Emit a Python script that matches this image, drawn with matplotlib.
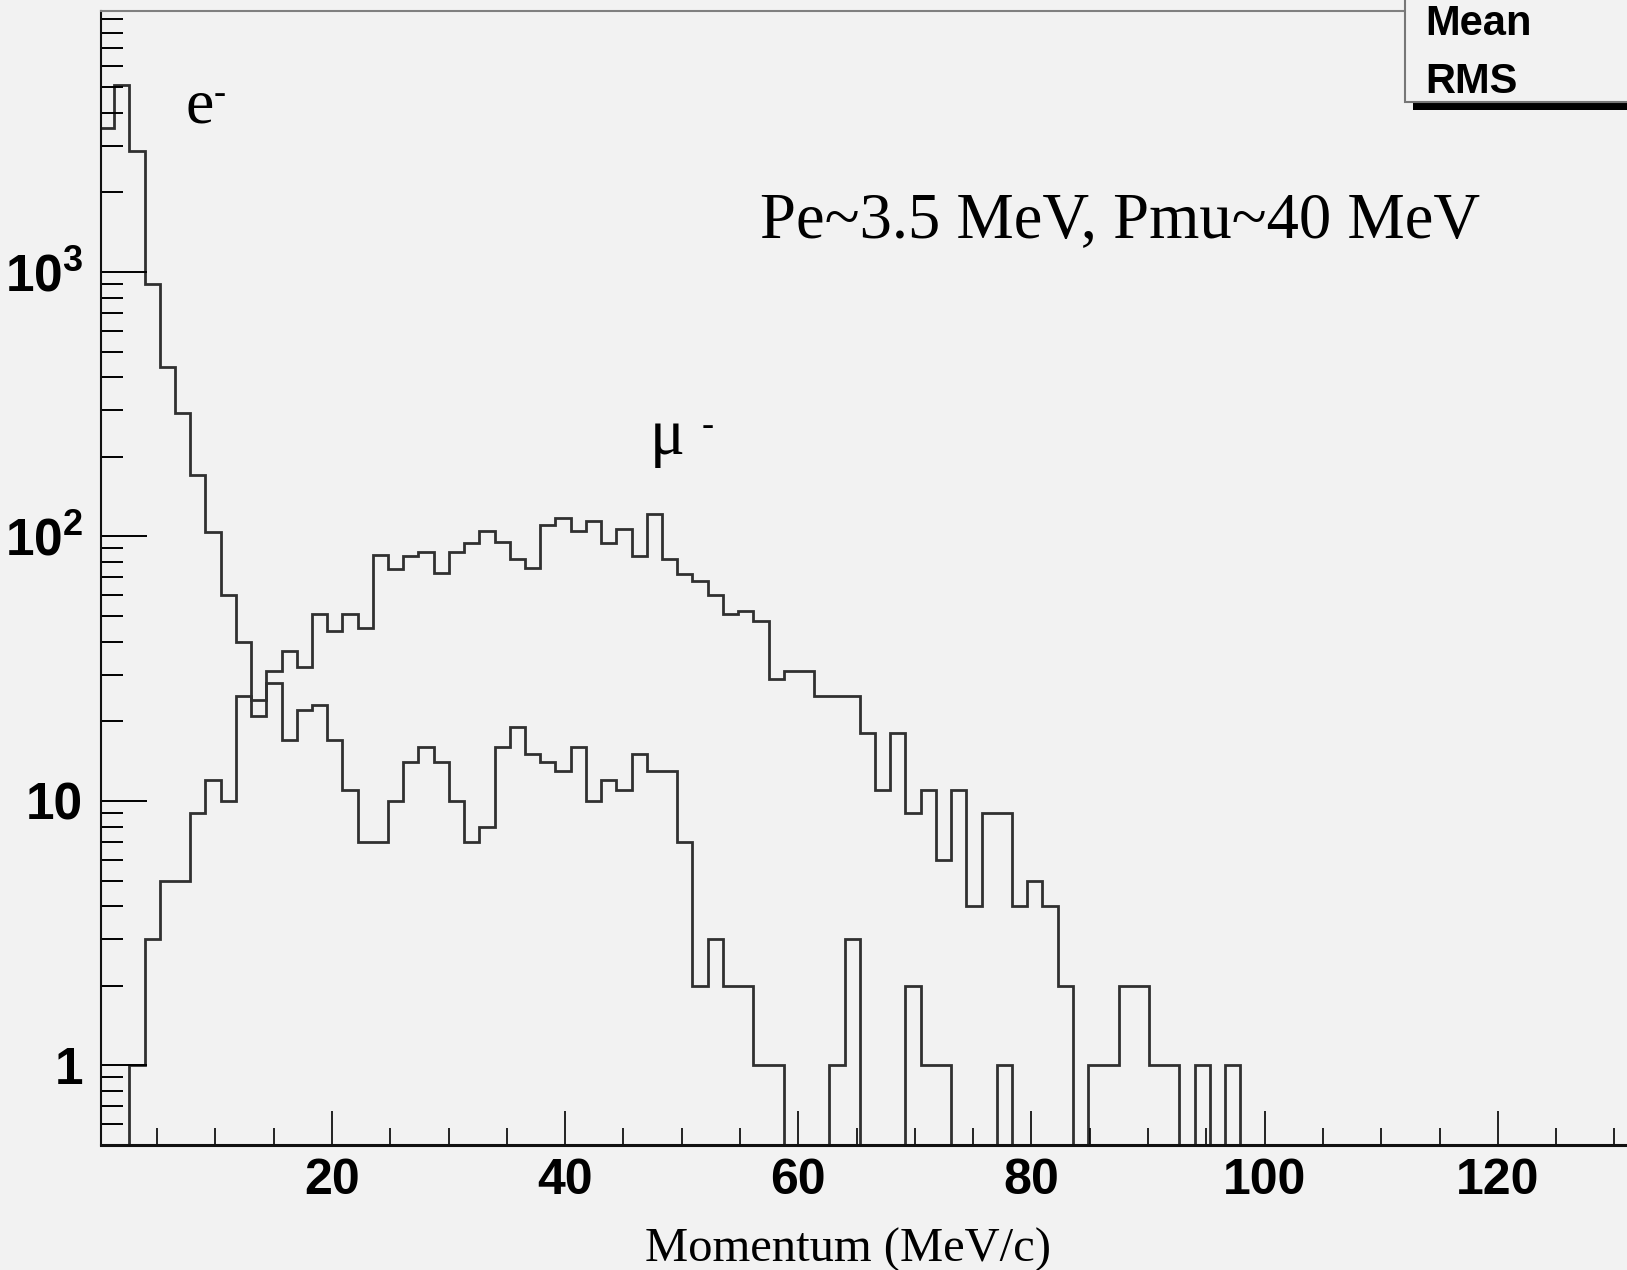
import numpy as np
import matplotlib
matplotlib.use("Agg")
import matplotlib.pyplot as plt
from matplotlib.patches import Rectangle
from matplotlib.ticker import MultipleLocator, LogLocator, FixedLocator, FixedFormatter, NullFormatter

# histogram binning (MeV/c)
bin_width = 1.3055
n_bins = 100

# counts per bin, starting at 0 MeV/c
electron_counts = [3500, 5100, 2860, 900, 437, 292, 171, 104, 60, 40,
                   21, 28, 17, 22, 23, 17, 11, 7, 7, 10,
                   14, 16, 14, 10, 7, 8, 16, 19, 15, 14,
                   13, 16, 10, 12, 11, 15, 13, 13, 7, 2,
                   3, 2, 2, 1, 1, 0, 0, 0, 1, 3,
                   0, 0, 0, 2, 1, 1, 0, 0, 0, 1]

muon_counts = [0, 0, 1, 3, 5, 5, 9, 12, 10, 25,
               24, 31, 37, 32, 51, 44, 51, 45, 85, 75,
               84, 87, 73, 87, 94, 105, 95, 82, 76, 110,
               117, 105, 114, 94, 107, 84, 122, 82, 72, 68,
               60, 51, 52, 48, 29, 31, 31, 25, 25, 25,
               18, 11, 18, 9, 11, 6, 11, 4, 9, 9,
               4, 5, 4, 2, 0, 1, 1, 2, 2, 1,
               1, 0, 1, 0, 1]

y_ticks = [1, 10, 100, 1000]
y_tick_labels = ["1", "10", r"$10^{2}$", r"$10^{3}$"]

bg = "#f2f2f2"
line_col = "#303030"

plt.rcParams["font.family"] = ["Liberation Sans", "DejaVu Sans"]
plt.rcParams["font.weight"] = "bold"
plt.rcParams["mathtext.fontset"] = "custom"
plt.rcParams["mathtext.rm"] = "Liberation Sans:bold"
plt.rcParams["mathtext.it"] = "Liberation Sans:bold"
plt.rcParams["mathtext.bf"] = "Liberation Sans:bold"

W, H = 1627, 1270
fig = plt.figure(figsize=(W / 100, H / 100), dpi=100, facecolor=bg)
ax = fig.add_axes([101 / W, 125 / H, 1560 / W, 1134 / H], facecolor=bg)

edges = np.arange(n_bins + 1) * bin_width
floor = 0.05
for counts in (electron_counts, muon_counts):
    v = np.zeros(n_bins)
    v[:len(counts)] = counts
    v = np.where(v > 0, v, floor)
    ax.stairs(v, edges, baseline=floor, color=line_col, lw=2.0)

ax.set_yscale("log")
ax.set_xlim(0.18, 134.0)
ax.set_ylim(0.5, 9690)

ax.xaxis.set_major_locator(MultipleLocator(20))
ax.xaxis.set_minor_locator(MultipleLocator(5))
ax.yaxis.set_major_locator(FixedLocator(y_ticks))
ax.yaxis.set_major_formatter(FixedFormatter(y_tick_labels))
ax.yaxis.set_minor_locator(LogLocator(base=10, subs=np.arange(2, 10)))
ax.yaxis.set_minor_formatter(NullFormatter())

ax.tick_params(axis="both", which="both", direction="in", top=False, right=False)
ax.tick_params(axis="y", which="major", length=33, width=1.4, pad=13, labelsize=37)
ax.tick_params(axis="y", which="minor", length=16, width=1.4)
ax.tick_params(axis="x", which="major", length=24.5, width=1.2, pad=9, labelsize=36)
ax.tick_params(axis="x", which="minor", length=12, width=1.2)

ax.spines["left"].set_linewidth(1.5)
ax.spines["left"].set_color("#111111")
ax.spines["bottom"].set_linewidth(2.2)
ax.spines["bottom"].set_color("#111111")
ax.spines["top"].set_linewidth(1.5)
ax.spines["top"].set_color("#808080")
ax.spines["right"].set_visible(False)

serif = ["Liberation Serif", "DejaVu Serif"]

# particle labels
fig.text(185 / W, 1 - 122.5 / H, "e", family=serif, weight="normal", size=46, va="baseline")
fig.text(219.6 / W, 1 - 94.3 / H, "-", family=serif, weight="normal", size=26, ha="center", va="center")
fig.text(650 / W, 1 - 454 / H, "μ", family=serif, weight="normal", size=47, va="baseline")
fig.text(707.5 / W, 1 - 426 / H, "-", family=serif, weight="normal", size=26, ha="center", va="center")

fig.text(760 / W, 1 - 236.6 / H, "Pe~3.5 MeV, Pmu~40 MeV", family=serif, weight="normal",
         size=46.5, va="baseline")

fig.text(848 / W, 1 - 1262 / H, "Momentum (MeV/c)", family=serif, weight="normal",
         size=35, ha="center", va="baseline")

# statistics box in the corner
shadow = Rectangle((1413 / W, 1 - 110 / H), 0.2, 8 / H, transform=fig.transFigure,
                   facecolor="black", edgecolor="none", zorder=4)
box = Rectangle((1405 / W, 1 - 101.7 / H), 0.2, 0.2, transform=fig.transFigure,
                facecolor=bg, edgecolor="#777777", lw=1.5, zorder=5)
fig.add_artist(shadow)
fig.add_artist(box)
fig.text(1425 / W, 1 - 35 / H, "Mean", size=30, weight="bold", va="baseline", zorder=6)
fig.text(1425 / W, 1 - 93 / H, "RMS", size=30, weight="bold", va="baseline", zorder=6)

fig.savefig("out.png", dpi=100, facecolor=bg)
